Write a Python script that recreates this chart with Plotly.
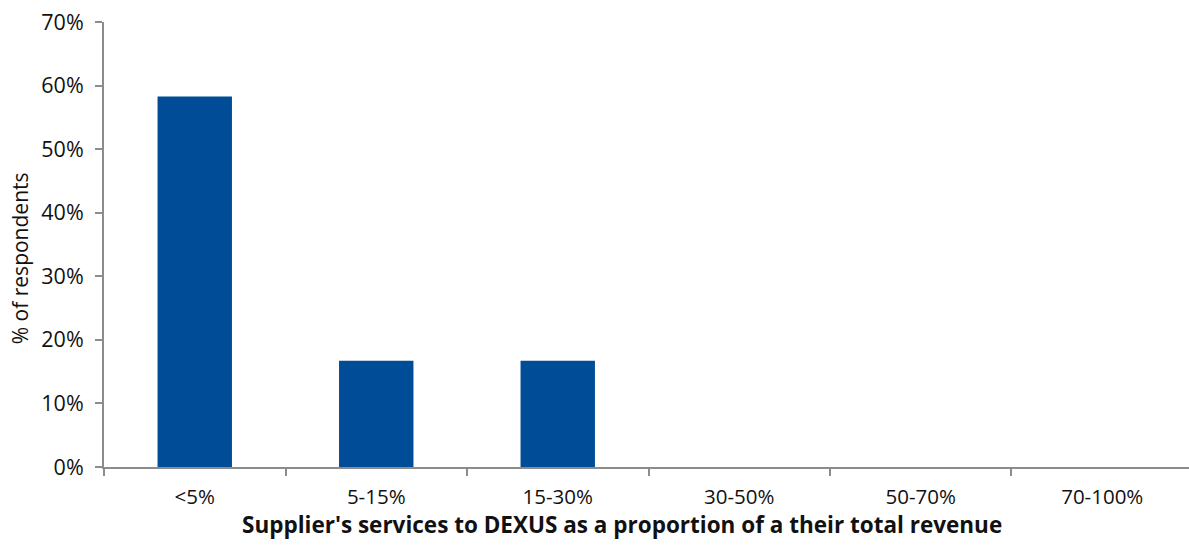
import plotly.graph_objects as go

categories = ["<5%", "5-15%", "15-30%", "30-50%", "50-70%", "70-100%"]
share_pct = [58.3, 16.7, 16.7, 0, 0, 0]
y_ticks = [0, 10, 20, 30, 40, 50, 60, 70]
y_tick_labels = [f"{v}%" for v in y_ticks]

X_TITLE = "<b>Supplier's services to DEXUS as a proportion of a their total revenue</b>"
Y_TITLE = "% of respondents"

BAR_COLOR = "#004C97"
AXIS_COLOR = "#8C8C8C"
FONT = "'Open Sans', Lato, sans-serif"

fig = go.Figure(
    go.Bar(
        x=categories,
        y=share_pct,
        marker=dict(color=BAR_COLOR, line=dict(width=0)),
        width=0.41,
        hoverinfo="x+y",
    )
)

fig.update_layout(
    width=1189,
    height=545,
    margin=dict(l=104, r=0, t=22, b=78),
    plot_bgcolor="white",
    paper_bgcolor="white",
    showlegend=False,
    font=dict(family=FONT, size=20, color="#111111"),
    annotations=[
        # axis titles placed as annotations for exact positioning
        dict(
            text=X_TITLE,
            xref="paper", yref="paper",
            x=0.477, y=-0.129,
            xanchor="center", yanchor="middle",
            showarrow=False,
            font=dict(size=22.5),
        ),
        dict(
            text=Y_TITLE,
            xref="paper", yref="paper",
            x=-0.078, y=0.47,
            xanchor="center", yanchor="middle",
            textangle=-90,
            showarrow=False,
            font=dict(size=21),
        ),
    ],
)

fig.update_xaxes(
    type="category",
    range=[-0.5, 5.478],
    showline=True,
    linecolor=AXIS_COLOR,
    linewidth=2,
    ticks="outside",
    tickson="boundaries",
    ticklen=7,
    tickwidth=1.5,
    tickcolor=AXIS_COLOR,
    showgrid=False,
    tickfont=dict(size=20.5),
    ticklabelstandoff=10,
)

fig.update_yaxes(
    range=[0, 70],
    tickvals=y_ticks,
    ticktext=y_tick_labels,
    showline=True,
    linecolor=AXIS_COLOR,
    linewidth=2,
    ticks="outside",
    ticklen=7,
    tickwidth=1.5,
    tickcolor=AXIS_COLOR,
    showgrid=False,
    zeroline=False,
    tickfont=dict(size=21.5),
    ticklabelstandoff=7,
)

fig.write_html("out.html")
